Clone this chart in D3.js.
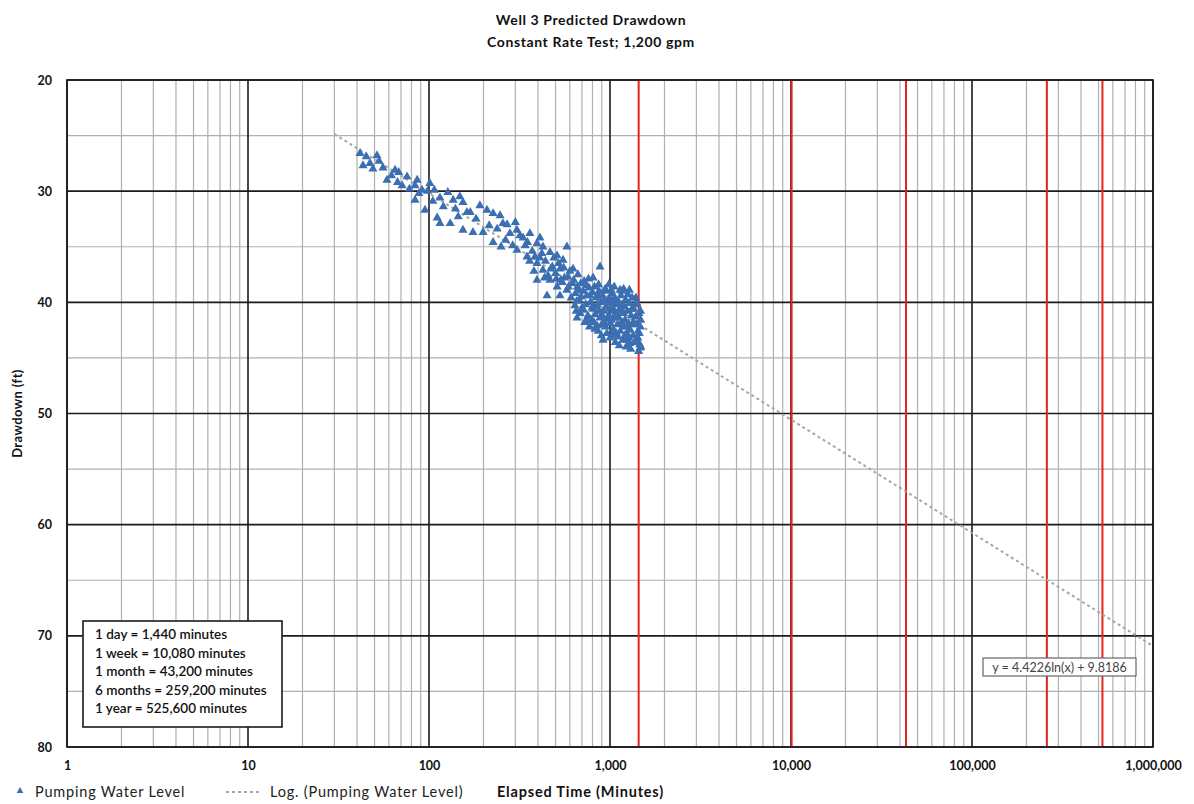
<!DOCTYPE html>
<html>
<head>
<meta charset="utf-8">
<script src="https://cdn.jsdelivr.net/npm/d3@7"></script>
<style>
  html, body { margin: 0; padding: 0; background: #fff; }
  svg { display: block; font-family: Lato, "Open Sans", sans-serif; }
  .tick text { font-weight: 700; fill: #111; }
</style>
</head>
<body>
<svg width="1194" height="804"></svg>
<script>
(function (d3) {
  'use strict';

  // tick labels
  const xTicks = [1, 10, 100, 1000, 10000, 100000, 1000000];
  const yTicks = [20, 30, 40, 50, 60, 70, 80];

  // reference durations (minutes) shown as red lines
  const periodLabels = ['1 day', '1 week', '1 month', '6 months', '1 year'];
  const periodMinutes = [1440, 10080, 43200, 259200, 525600];

  // log trendline  y = a ln(x) + b
  const trendA = 4.4226;
  const trendB = 9.8186;
  const trendRange = [30, 1000000];

  // pumping water level: [elapsed minutes, drawdown ft]
  const pumpingLevel = [
    [41.6,26.6],[43.2,27.7],[51.6,26.8],[47.2,27.5],[55.7,27.9],[64.9,28.1],[58.6,29.0],[71,29.5],
    [75.6,28.7],[83.7,29.5],[91.5,29.9],[101,29.3],[83.7,30.8],[95,31.7],[115,30.6],[127,30.1],
    [136,30.8],[148,30.5],[111,32.4],[115,32.9],[131,32.9],[145,32.3],[162,31.9],[154,33.5],
    [45,26.9],[49,28.0],[53,27.3],[62,28.6],[68,28.3],[78,29.8],[88,30.2],[98,30.0],[105,30.9],
    [120,31.4],[140,31.6],[67,29.2],[86,29.0],[107,29.9],
    [154,31.0],[169,31.9],[191,31.3],[209,31.7],[226,32.0],[247,32.2],[256,32.9],[175,33.7],
    [199,33.7],[226,34.6],[280,33.8],[306,33.5],[331,34.2],[361,33.8],[395,34.7],[426,35.0],
    [466,35.5],[510,35.8],[550,36.2],[306,35.3],[348,35.9],[395,36.5],[426,37.1],[466,38.0],
    [395,38.0],[510,38.6],[449,39.4],[529,39.4],[578,38.9],[586,37.7],[578,35.0],
    [182,32.5],[215,33.1],[238,33.4],[265,34.4],[290,34.9],[318,34.0],[340,34.9],[372,35.4],
    [410,36.0],[440,36.3],[480,36.8],[500,37.4],[530,37.0],[560,37.8],[600,37.2],[620,38.3],
    [380,37.2],[455,37.6],[490,36.0],[270,33.0],[300,32.8],[250,35.0],[410,34.2],[520,36.5],[545,38.2],
    [657,41.4],[747,41.6],[848,42.1],[881,36.8],[806,37.8],[1242,43.4],[1289,43.7],[1466,44.1],
    [1066,42.8],[1136,38.9],
    [630,38.0],[645,39.2],[660,38.6],[675,39.8],[690,38.3],[700,40.5],[640,40.3],[665,37.5],[685,41.0],[655,39.9],
    [710,39.0],[720,38.1],[735,40.2],[745,39.4],[755,41.2],[765,38.7],[780,40.0],[790,41.6],[800,39.1],
    [725,41.8],[770,42.2],[760,37.9],
    [810,40.6],[820,38.6],[830,41.1],[840,39.6],[850,40.2],[860,42.6],[870,39.0],[880,41.4],[890,40.0],
    [900,42.0],[825,42.4],[865,38.4],[895,43.0],
    [910,39.4],[920,40.8],[930,41.8],[940,38.8],[950,40.4],[960,42.8],[970,39.8],[980,41.2],[990,40.6],
    [1000,43.2],[915,43.4],[945,42.2],[985,38.4],[955,39.0],
    [1010,40.0],[1020,41.6],[1030,39.2],[1040,42.4],[1050,40.8],[1060,39.6],[1070,43.6],[1080,41.0],
    [1090,40.2],[1100,42.0],[1025,43.0],[1055,38.6],[1085,42.8],[1015,38.9],
    [1110,39.9],[1120,41.4],[1130,40.6],[1140,42.6],[1150,39.4],[1160,41.8],[1170,40.2],[1180,43.4],
    [1190,41.0],[1200,40.4],[1125,43.9],[1165,39.0],[1195,42.2],
    [1210,41.6],[1220,39.8],[1235,42.8],[1250,40.8],[1265,41.9],[1280,40.1],[1295,42.5],[1310,41.2],
    [1325,39.6],[1340,43.0],[1230,44.0],[1300,44.2],[1255,39.3],
    [1355,40.6],[1370,42.0],[1385,41.3],[1400,43.4],[1415,40.2],[1430,42.6],[1445,41.0],[1460,43.8],
    [1475,40.8],[1440,44.4],[1390,39.6],[1470,42.2],[1480,44.0],
    [350,34.6],[360,36.3],[385,35.9],[420,35.6],[435,37.8],[470,37.0],[505,37.9],[535,38.0],
    [555,36.9],[590,38.6],[610,39.6],[625,37.0],[650,40.8],[670,38.9],[695,39.5],[715,40.7],
    [740,38.5],[775,39.4],[795,40.5],[815,41.8],[835,40.4],[855,39.3],[875,40.8],[905,41.2],
    [925,39.9],[965,41.5],[995,39.6],[1005,41.9],[1035,40.5],[1045,41.3],[1075,39.8],[1095,41.4],
    [1105,43.1],[1145,40.8],[1175,42.0],[1205,43.0],[1245,42.2],[1275,43.2],[1320,40.6],[1345,41.8],
    [1365,43.6],[1405,42.0],[1425,43.2],[1450,42.8],[1478,41.6],[1190,38.8],[1280,38.9],[1400,40.0]
  ];

  const svg = d3.select('svg');
  const margin = { top: 80, right: 41, bottom: 57, left: 67 };
  const width = 1194, height = 804;
  const innerWidth = width - margin.left - margin.right;
  const innerHeight = height - margin.top - margin.bottom;

  const x = d3.scaleLog().domain([1, 1000000]).range([0, innerWidth]);
  const y = d3.scaleLinear().domain([20, 80]).range([0, innerHeight]);

  const g = svg.append('g')
      .attr('transform', `translate(${margin.left},${margin.top})`);

  // minor vertical grid (2..9 in every decade)
  const minorX = [];
  for (let dec = 1; dec < 1000000; dec *= 10) {
    for (let k = 2; k <= 9; k++) minorX.push(dec * k);
  }
  g.selectAll('.minor-x').data(minorX)
    .enter().append('line')
      .attr('x1', d => x(d)).attr('x2', d => x(d))
      .attr('y1', 0).attr('y2', innerHeight)
      .attr('stroke', '#b0b0b0').attr('stroke-width', 1.2);

  // minor horizontal grid (every 5 ft)
  const minorY = d3.range(25, 80, 10);
  g.selectAll('.minor-y').data(minorY)
    .enter().append('line')
      .attr('x1', 0).attr('x2', innerWidth)
      .attr('y1', d => y(d)).attr('y2', d => y(d))
      .attr('stroke', '#b0b0b0').attr('stroke-width', 1.2);

  // major grid
  g.selectAll('.major-x').data(xTicks)
    .enter().append('line')
      .attr('x1', d => x(d)).attr('x2', d => x(d))
      .attr('y1', 0).attr('y2', innerHeight)
      .attr('stroke', '#1a1a1a').attr('stroke-width', 1.6);
  g.selectAll('.major-y').data(yTicks)
    .enter().append('line')
      .attr('x1', 0).attr('x2', innerWidth)
      .attr('y1', d => y(d)).attr('y2', d => y(d))
      .attr('stroke', '#1a1a1a').attr('stroke-width', 1.6);

  // red period lines
  g.selectAll('.period').data(periodMinutes)
    .enter().append('line')
      .attr('x1', d => x(d)).attr('x2', d => x(d))
      .attr('y1', 0).attr('y2', innerHeight)
      .attr('stroke', '#e3241b').attr('stroke-width', 2);

  // trendline
  const trendPts = d3.range(0, 121).map(i => {
    const lx = Math.log10(trendRange[0]) + i * (Math.log10(trendRange[1]) - Math.log10(trendRange[0])) / 120;
    const xv = Math.pow(10, lx);
    return [xv, trendA * Math.log(xv) + trendB];
  });
  g.append('path')
      .datum(trendPts)
      .attr('fill', 'none')
      .attr('stroke', '#a6a6a6')
      .attr('stroke-width', 2)
      .attr('stroke-dasharray', '3,3')
      .attr('d', d3.line().x(d => x(d[0])).y(d => y(d[1])));

  // scatter
  const tri = d3.symbol().type(d3.symbolTriangle).size(36);
  g.selectAll('.pt').data(pumpingLevel)
    .enter().append('path')
      .attr('transform', d => `translate(${x(d[0])},${y(d[1])})`)
      .attr('d', tri)
      .attr('fill', '#3b6fb2');

  // plot border
  g.append('rect')
      .attr('width', innerWidth).attr('height', innerHeight)
      .attr('fill', 'none').attr('stroke', '#1a1a1a').attr('stroke-width', 1.6);

  // axes (labels only)
  const xAxis = g.append('g')
      .attr('transform', `translate(0,${innerHeight})`)
      .call(d3.axisBottom(x).tickValues(xTicks).tickSize(0).tickPadding(14)
        .tickFormat(d3.format(',')));
  xAxis.select('.domain').remove();
  xAxis.selectAll('text').attr('font-size', 12.5).attr('font-family', 'Lato, sans-serif');

  const yAxis = g.append('g')
      .call(d3.axisLeft(y).tickValues(yTicks).tickSize(0).tickPadding(15));
  yAxis.select('.domain').remove();
  yAxis.selectAll('text').attr('font-size', 12.5).attr('font-family', 'Lato, sans-serif');

  // titles
  const title = svg.append('text')
      .attr('x', 591).attr('y', 25)
      .attr('text-anchor', 'middle')
      .attr('font-size', 14).attr('font-weight', 700).attr('fill', '#111')
      .attr('letter-spacing', 0.6);
  title.append('tspan').attr('x', 591).text('Well 3 Predicted Drawdown');
  title.append('tspan').attr('x', 591).attr('dy', 22).text('Constant Rate Test; 1,200 gpm');

  svg.append('text')
      .attr('transform', `translate(22,${margin.top + innerHeight / 2}) rotate(-90)`)
      .attr('text-anchor', 'middle')
      .attr('font-size', 13).attr('font-weight', 700).attr('fill', '#111')
      .attr('letter-spacing', 0.4)
      .text('Drawdown (ft)');

  svg.append('text')
      .attr('x', 497).attr('y', 797)
      .attr('font-size', 14.5).attr('font-weight', 700).attr('fill', '#111')
      .attr('letter-spacing', 0.8)
      .text('Elapsed Time (Minutes)');

  // bottom legend
  svg.append('path')
      .attr('transform', 'translate(20,791)')
      .attr('d', d3.symbol().type(d3.symbolTriangle).size(20))
      .attr('fill', '#3b6fb2');
  svg.append('text')
      .attr('x', 35).attr('y', 797)
      .attr('font-size', 14.5).attr('fill', '#222')
      .attr('letter-spacing', 0.8)
      .text('Pumping Water Level');
  svg.append('line')
      .attr('x1', 226).attr('x2', 262).attr('y1', 792).attr('y2', 792)
      .attr('stroke', '#a6a6a6').attr('stroke-width', 2).attr('stroke-dasharray', '3,3');
  svg.append('text')
      .attr('x', 270).attr('y', 797)
      .attr('font-size', 14.5).attr('fill', '#222')
      .attr('letter-spacing', 0.8)
      .text('Log. (Pumping Water Level)');

  // period note box
  const note = svg.append('g').attr('transform', 'translate(83,621)');
  note.append('rect')
      .attr('width', 199).attr('height', 106)
      .attr('fill', '#fff').attr('stroke', '#1a1a1a').attr('stroke-width', 1.6);
  note.selectAll('text').data(periodLabels)
    .enter().append('text')
      .attr('x', 12)
      .attr('y', (d, i) => 18 + i * 18.6)
      .attr('font-size', 13.5).attr('font-weight', 600).attr('fill', '#111')
      .text((d, i) => `${d} = ${d3.format(',')(periodMinutes[i])} minutes`);

  // equation box
  const eq = svg.append('g').attr('transform', 'translate(983,658)');
  eq.append('rect')
      .attr('width', 153).attr('height', 18)
      .attr('fill', '#fff').attr('stroke', '#666').attr('stroke-width', 1.2);
  eq.append('text')
      .attr('x', 76.5).attr('y', 13.5)
      .attr('text-anchor', 'middle')
      .attr('font-size', 12.5).attr('fill', '#444')
      .text(`y = ${trendA}ln(x) + ${trendB}`);

}(d3));
</script>
</body>
</html>
